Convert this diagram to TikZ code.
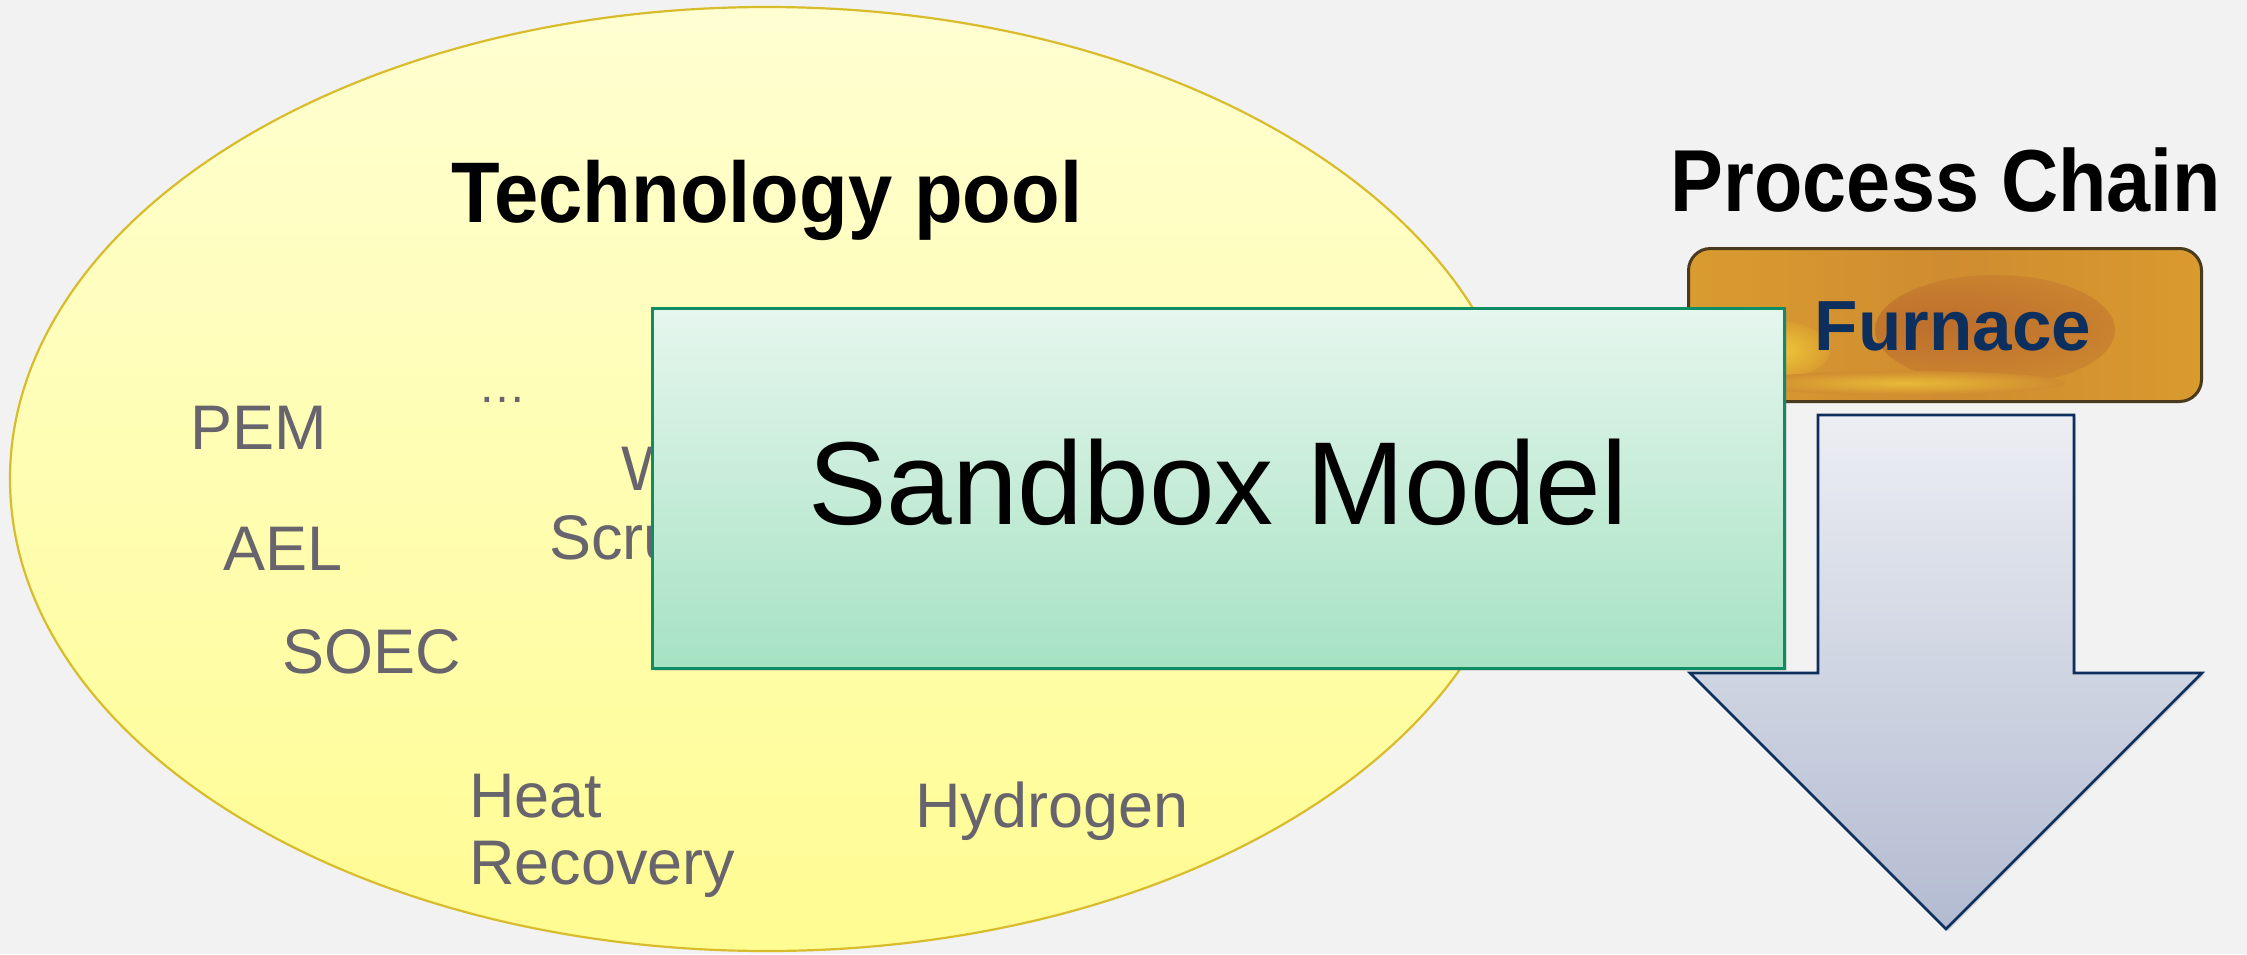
\documentclass[tikz,border=0pt]{standalone}
\usepackage{fontspec}
\setmainfont{Liberation Sans}
\usetikzlibrary{shapes.geometric,shadows}
\definecolor{bg}{HTML}{F2F2F2}
\definecolor{pooltop}{HTML}{FFFFD2}
\definecolor{poolbot}{HTML}{FFFC92}
\definecolor{poolborder}{HTML}{D8BC2C}
\definecolor{labelgray}{HTML}{67646E}
\definecolor{sbtop}{HTML}{E6F6EE}
\definecolor{sbbot}{HTML}{A6E2C3}
\definecolor{sbborder}{HTML}{0E8C64}
\definecolor{arrtop}{HTML}{ECEEF3}
\definecolor{arrbot}{HTML}{B3BBD1}
\definecolor{navy}{HTML}{0D2F5E}
\definecolor{furnL}{HTML}{D99C30}
\definecolor{furnM}{HTML}{D08C30}
\definecolor{furnR}{HTML}{D99A2E}
\definecolor{furnDark}{HTML}{BC6E2C}
\definecolor{furnYel}{HTML}{F2CE3A}
\definecolor{furnborder}{HTML}{4A3A1E}
\tikzset{
  lbl/.style={text=labelgray, font=\fontsize{63}{67}\selectfont, inner sep=0pt, anchor=base west},
  titlelbl/.style={text=black, inner sep=0pt, anchor=base},
}
\begin{document}
\begin{tikzpicture}[x=1pt,y=-1pt]
\useasboundingbox (0,0) rectangle (2247,954);
\fill[bg] (0,0) rectangle (2247,954);

% Technology pool ellipse
\node[ellipse, minimum width=1514pt, minimum height=944pt, inner sep=0pt,
      draw=poolborder, line width=2.2pt, top color=pooltop, bottom color=poolbot] (pool) at (767,479) {};
\node[titlelbl, font=\bfseries\fontsize{86}{86}\selectfont] (pooltitle) at (767,222) {\scalebox{0.925}[1]{Technology pool}};

% labels in the pool
\node[lbl] (pem) at (190,449) {PEM};
\node[lbl] (ael) at (223,570) {AEL};
\node[lbl] (soec) at (282,673) {SOEC};
\node[lbl] (dots) at (478,402) {\fontsize{48}{48}\selectfont …};
\node[lbl] (w) at (621,490) {W};
\node[lbl] (scru) at (549,559) {Scru};
\node[lbl] (heat) at (469,817) {Heat};
\node[lbl] (recov) at (469,884) {Recovery};
\node[lbl] (hydro) at (915,827) {Hydrogen};

% Process chain title
\node[titlelbl, font=\bfseries\fontsize{88}{88}\selectfont] (pctitle) at (1946,211) {\scalebox{0.9}[1]{Process Chain}};

% Big down arrow
\coordinate (st1) at (1818,415);
\coordinate (st2) at (2074,415);
\coordinate (st3) at (2074,673);
\coordinate (hd1) at (2202,673);
\coordinate (tip) at (1946,929);
\coordinate (hd2) at (1690,673);
\coordinate (st4) at (1818,673);
\path[draw=navy, line width=2.6pt, line join=miter, top color=arrtop, bottom color=arrbot,
      drop shadow={opacity=0.25, shadow xshift=2pt, shadow yshift=-2pt}]
  (st1) -- (st2) -- (st3) -- (hd1) -- (tip) -- (hd2) -- (st4) -- cycle;

% Furnace box
\node[rectangle, rounded corners=22pt, minimum width=513pt, minimum height=153pt, inner sep=0pt,
      draw=furnborder, line width=3pt, left color=furnL, right color=furnR, middle color=furnM,
      path picture={
        \shade[inner color=furnDark, outer color=furnM] ([xshift=50pt,yshift=-5pt]path picture bounding box.center) ellipse (120pt and 55pt);
        \shade[inner color=furnYel, outer color=furnL] ([xshift=-175pt,yshift=-25pt]path picture bounding box.center) ellipse (60pt and 30pt);
        \shade[inner color=furnYel!70!furnM, outer color=furnM] ([xshift=-40pt,yshift=-58pt]path picture bounding box.center) ellipse (160pt and 12pt);
      }] (furnace) at (1945,325) {};
\node[titlelbl, text=navy, font=\bfseries\fontsize{71}{71}\selectfont] (furnlbl) at (1953,350) {Furnace};

% Sandbox model box
\node[rectangle, minimum width=1132pt, minimum height=360pt, inner sep=0pt,
      draw=sbborder, line width=3pt, top color=sbtop, bottom color=sbbot,
      drop shadow={opacity=0.25, shadow xshift=3pt, shadow yshift=-3pt}] (sandbox) at (1218,488) {};
\node[titlelbl, font=\fontsize{118}{118}\selectfont] (sblbl) at (1218,524) {Sandbox Model};
\end{tikzpicture}
\end{document}
